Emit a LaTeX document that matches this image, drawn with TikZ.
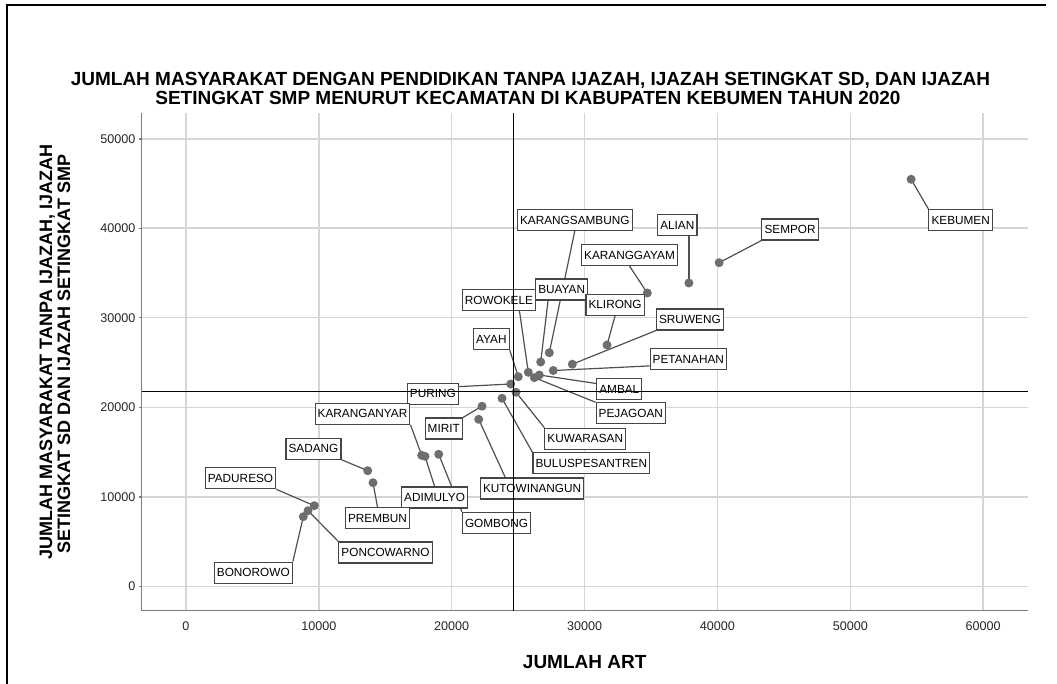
\documentclass[tikz,border=0pt]{standalone}
\usepackage{fontspec}
\setmainfont{Liberation Sans}
\usetikzlibrary{calc}
\definecolor{gridgray}{RGB}{214,214,214}
\definecolor{axisgray}{RGB}{125,125,125}
\definecolor{dotgray}{RGB}{110,110,110}
\definecolor{leadgray}{RGB}{80,80,80}
\definecolor{boxgray}{RGB}{70,70,70}
\pgfdeclarelayer{bg}
\pgfdeclarelayer{lead}
\pgfdeclarelayer{dots}
\pgfdeclarelayer{top}
\pgfsetlayers{bg,lead,dots,main,top}
\begin{document}
\begin{tikzpicture}[x=1pt,y=-1pt,
  gridl/.style={draw=gridgray,line width=1.4pt},
  axisl/.style={draw=axisgray,line width=1.3pt},
  refl/.style={draw=black,line width=0.9pt},
  dotn/.style={circle,fill=dotgray,inner sep=0pt,minimum size=9pt},
  lab/.style={draw=boxgray,line width=1.1pt,fill=white,font=\fontsize{11.8}{12}\selectfont,inner xsep=2.6pt,inner ysep=0pt,minimum height=21pt,text height=8.5pt,text depth=0pt},
  leader/.style={draw=leadgray,line width=1.2pt},
  ticklab/.style={font=\fontsize{12.6}{13}\selectfont,text=black!85,inner sep=0pt},
  ttl/.style={font=\fontsize{19}{19}\selectfont\bfseries,inner sep=0pt},
  yttl/.style={font=\fontsize{18}{18}\selectfont\bfseries,inner sep=0pt},
]
\path[use as bounding box] (0,0) rectangle (1057,684);

% grid and axes
\begin{pgfonlayer}{bg}
\fill[white] (0,0) rectangle (1057,684);
\foreach \x in {186,318.9,451.7,584.6,717.4,850.3,983.1} \draw[gridl] (\x,113.5) -- (\x,610.5);
\foreach \y in {586.5,497,407.2,317.7,228.2,138.9} {\draw[gridl] (141.5,\y) -- (1028,\y); \draw[axisl] (138.5,\y) -- (141.5,\y);}
\draw[axisl] (141.5,113.5) -- (141.5,610.5) -- (1028,610.5);
\end{pgfonlayer}

% frame
\draw[line width=2pt] (7,684) -- (7,5) -- (1046,5);

% titles
\node[ttl,anchor=base] (t1) at (530.5,86) {JUMLAH MASYARAKAT DENGAN PENDIDIKAN TANPA IJAZAH, IJAZAH SETINGKAT SD, DAN IJAZAH};
\node[ttl,anchor=base] (t2) at (528,104.5) {SETINGKAT SMP MENURUT KECAMATAN DI KABUPATEN KEBUMEN TAHUN 2020};
\node[ttl,anchor=base] (xl) at (584.7,668.3) {JUMLAH ART};
\node[yttl,anchor=base,rotate=90] (yl1) at (52,352) {JUMLAH MASYARAKAT TANPA IJAZAH, IJAZAH};
\node[yttl,anchor=base,rotate=90] (yl2) at (70,354) {SETINGKAT SD DAN IJAZAH SETINGKAT SMP};

% tick labels
\node[ticklab,anchor=east] (y0) at (135.5,586.5) {0};
\node[ticklab,anchor=east] (y1) at (135.5,497) {10000};
\node[ticklab,anchor=east] (y2) at (135.5,407.2) {20000};
\node[ticklab,anchor=east] (y3) at (135.5,317.7) {30000};
\node[ticklab,anchor=east] (y4) at (135.5,228.2) {40000};
\node[ticklab,anchor=east] (y5) at (135.5,138.9) {50000};
\node[ticklab,anchor=base] (x0) at (186,630.3) {0};
\node[ticklab,anchor=base] (x1) at (318.9,630.3) {10000};
\node[ticklab,anchor=base] (x2) at (451.7,630.3) {20000};
\node[ticklab,anchor=base] (x3) at (584.6,630.3) {30000};
\node[ticklab,anchor=base] (x4) at (717.4,630.3) {40000};
\node[ticklab,anchor=base] (x5) at (850.3,630.3) {50000};
\node[ticklab,anchor=base] (x6) at (983.1,630.3) {60000};

% labels
\node[lab] (lKEB) at (960.7,220) {KEBUMEN};
\node[lab] (lSEM) at (790.1,229.5) {SEMPOR};
\node[lab] (lALI) at (677.3,225.2) {ALIAN};
\node[lab] (lKGY) at (629.5,255) {KARANGGAYAM};
\node[lab] (lKSB) at (574.8,219.8) {KARANGSAMBUNG};
\node[lab] (lBUA) at (561.7,289.5) {BUAYAN};
\node[lab] (lROW) at (498.9,299.9) {ROWOKELE};
\node[lab] (lKLI) at (615.1,304.7) {KLIRONG};
\node[lab] (lSRU) at (689.9,319.5) {SRUWENG};
\node[lab] (lAYA) at (491.4,339.2) {AYAH};
\node[lab] (lPET) at (688.3,359.3) {PETANAHAN};
\node[lab] (lAMB) at (619.3,388.8) {AMBAL};
\node[lab] (lPEJ) at (630.8,413.3) {PEJAGOAN};
\node[lab] (lKUW) at (585.3,438.7) {KUWARASAN};
\node[lab] (lBUL) at (591.3,463.3) {BULUSPESANTREN};
\node[lab] (lKUT) at (532.1,488.5) {KUTOWINANGUN};
\node[lab] (lMIR) at (443.8,428.5) {MIRIT};
\node[lab] (lPUR) at (432.9,393.7) {PURING};
\node[lab] (lKRY) at (362.5,413.7) {KARANGANYAR};
\node[lab] (lADI) at (434.6,497.5) {ADIMULYO};
\node[lab] (lGOM) at (496.5,522.8) {GOMBONG};
\node[lab] (lSAD) at (313.5,448.7) {SADANG};
\node[lab] (lPRE) at (377.5,518.2) {PREMBUN};
\node[lab] (lPAD) at (240.5,478.3) {PADURESO};
\node[lab] (lPON) at (385.5,552.5) {PONCOWARNO};
\node[lab] (lBON) at (253.3,572.7) {BONOROWO};

% dots
\begin{pgfonlayer}{dots}
\node[dotn] (pKEB) at (911.1,179.3) {};
\node[dotn] (pSEM) at (719.1,262.7) {};
\node[dotn] (pALI) at (688.9,283) {};
\node[dotn] (pKGY) at (647.3,293) {};
\node[dotn] (pKSB) at (549.3,352.7) {};
\node[dotn] (pBUA) at (540.7,362) {};
\node[dotn] (pROW) at (528.3,372.3) {};
\node[dotn] (pKLI) at (607,345) {};
\node[dotn] (pSRU) at (572.3,364.2) {};
\node[dotn] (pAYA) at (518.3,376.7) {};
\node[dotn] (pPET) at (553.3,370.5) {};
\node[dotn] (pAMB) at (539.3,375) {};
\node[dotn] (pPEJ) at (534.3,377.6) {};
\node[dotn] (pKUW) at (516,392.3) {};
\node[dotn] (pBUL) at (502,398.3) {};
\node[dotn] (pKUT) at (478.7,419.3) {};
\node[dotn] (pMIR) at (482,406.2) {};
\node[dotn] (pPUR) at (510.7,384) {};
\node[dotn] (pKRY) at (421.7,455.3) {};
\node[dotn] (pADI) at (425,456.3) {};
\node[dotn] (pGOM) at (438.7,454.3) {};
\node[dotn] (pSAD) at (367.7,470.7) {};
\node[dotn] (pPRE) at (373,482.7) {};
\node[dotn] (pPAD) at (314.3,505.7) {};
\node[dotn] (pPON) at (308,510.7) {};
\node[dotn] (pBON) at (303.3,516.7) {};
\end{pgfonlayer}

% leaders
\begin{pgfonlayer}{lead}
\draw[leader] (pKEB.center) -- (lKEB.north west);
\draw[leader] (pSEM.center) -- (lSEM.south west);
\draw[leader] (pALI.center) -- (pALI |- lALI.south);
\draw[leader] (pKGY.center) -- (lKGY.south);
\draw[leader] (pKSB.center) -- (lKSB.south);
\draw[leader] (pBUA.center) -- ($(lBUA.south west)!0.243!(lBUA.south east)$);
\draw[leader] (pROW.center) -- ($(lROW.south west)!0.776!(lROW.south east)$);
\draw[leader] (pKLI.center) -- (lKLI.south);
\draw[leader] (pSRU.center) -- (lSRU.south west);
\draw[leader] (pAYA.center) -- (lAYA.south east);
\draw[leader] (pPET.center) -- ($(lPET.south west)!0.2!(lPET.north west)$);
\draw[leader] (pAMB.center) -- ($(lAMB.north west)!0.26!(lAMB.south west)$);
\draw[leader] (pPEJ.center) -- (lPEJ.north west);
\draw[leader] (pKUW.center) -- (lKUW.north west);
\draw[leader] (pBUL.center) -- (lBUL.north west);
\draw[leader] (pKUT.center) -- ($(lKUT.north west)!0.243!(lKUT.north east)$);
\draw[leader] (pMIR.center) -- (lMIR.north east);
\draw[leader] (pPUR.center) -- ($(lPUR.north east)!0.18!(lPUR.south east)$);
\draw[leader] (pKRY.center) -- (lKRY.south east);
\draw[leader] (pADI.center) -- (lADI.north);
\draw[leader] (pGOM.center) -- (lGOM.north west);
\draw[leader] (pSAD.center) -- (lSAD.south east);
\draw[leader] (pPRE.center) -- (lPRE.north);
\draw[leader] (pPAD.center) -- (lPAD.south east);
\draw[leader] (pPON.center) -- (lPON.north west);
\draw[leader] (pBON.center) -- (lBON.north east);
\end{pgfonlayer}

% reference lines
\begin{pgfonlayer}{top}
\draw[refl] (513.7,113.5) -- (513.7,610.5);
\draw[refl] (141.5,391.7) -- (1028,391.7);
\end{pgfonlayer}
\end{tikzpicture}
\end{document}
